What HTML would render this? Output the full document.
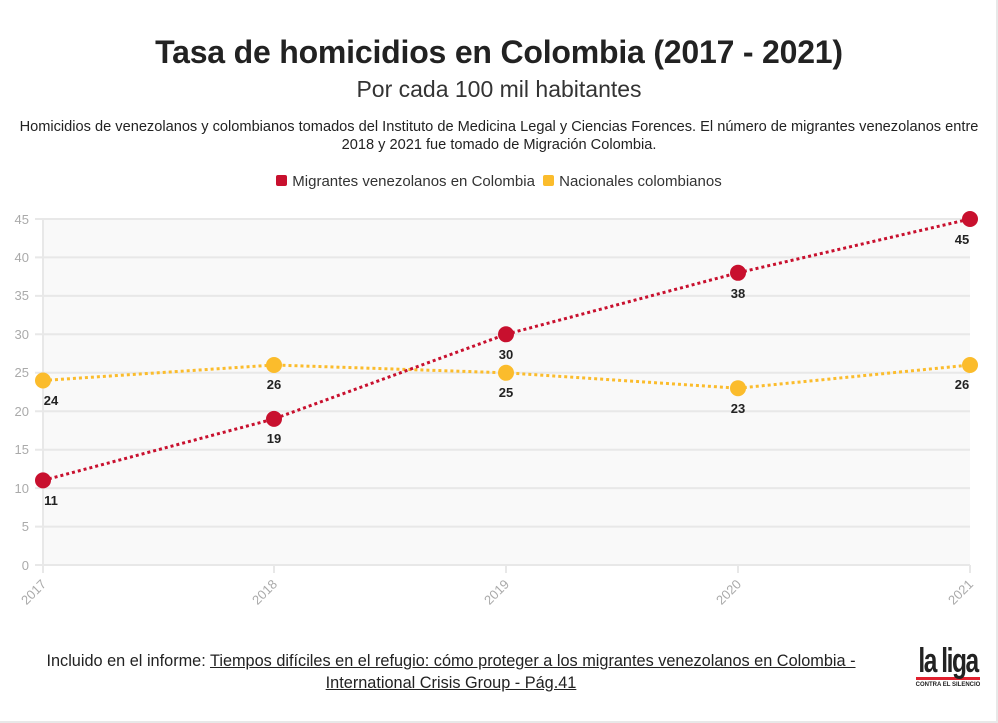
<!DOCTYPE html><html><head><meta charset="utf-8"><style>
body{margin:0;width:998px;height:723px;background:#fff;font-family:"Liberation Sans",sans-serif;overflow:hidden;position:relative}
.t{position:absolute;left:0;width:998px;text-align:center;color:#222}
</style></head><body>
<div style="position:absolute;right:0;top:0;width:2px;height:723px;background:#e8e8e8"></div>
<div style="position:absolute;left:0;bottom:0;width:998px;height:2px;background:#e8e8e8"></div>
<div class="t" style="top:34px;font-size:32px;font-weight:bold;letter-spacing:-0.2px">Tasa de homicidios en Colombia (2017 - 2021)</div>
<div class="t" style="top:76px;font-size:23px;color:#333">Por cada 100 mil habitantes</div>
<div class="t" style="top:118px;font-size:14.6px;line-height:18px;color:#222">Homicidios de venezolanos y colombianos tomados del Instituto de Medicina Legal y Ciencias Forences. El número de migrantes venezolanos entre<br>2018 y 2021 fue tomado de Migración Colombia.</div>
<div class="t" style="top:173px;font-size:15px;color:#333"><span style="display:inline-block;width:11px;height:11px;background:#c8102e;border-radius:2px;margin-right:5px"></span>Migrantes venezolanos en Colombia <span style="display:inline-block;width:11px;height:11px;background:#fbbc2c;border-radius:2px;margin:0 5px 0 4px"></span>Nacionales colombianos</div>
<svg width="998" height="723" style="position:absolute;left:0;top:0" font-family="Liberation Sans, sans-serif">
<rect x="43" y="219" width="927" height="346" fill="#f9f9f9"/>
<g stroke="#e8e8e8" stroke-width="2">
<line x1="35" x2="970" y1="565" y2="565"/><line x1="35" x2="970" y1="526.6" y2="526.6"/><line x1="35" x2="970" y1="488.1" y2="488.1"/><line x1="35" x2="970" y1="449.7" y2="449.7"/><line x1="35" x2="970" y1="411.2" y2="411.2"/><line x1="35" x2="970" y1="372.8" y2="372.8"/><line x1="35" x2="970" y1="334.3" y2="334.3"/><line x1="35" x2="970" y1="295.9" y2="295.9"/><line x1="35" x2="970" y1="257.4" y2="257.4"/><line x1="35" x2="970" y1="219" y2="219"/>
<line x1="43" x2="43" y1="219" y2="573"/><line x1="274" x2="274" y1="565" y2="573"/><line x1="506" x2="506" y1="565" y2="573"/><line x1="738" x2="738" y1="565" y2="573"/><line x1="970" x2="970" y1="565" y2="573"/>
</g>
<g fill="#aaa" font-size="13" text-anchor="end">
<text x="29" y="570">0</text><text x="29" y="531">5</text><text x="29" y="493">10</text><text x="29" y="454">15</text><text x="29" y="416">20</text><text x="29" y="377">25</text><text x="29" y="339">30</text><text x="29" y="300">35</text><text x="29" y="262">40</text><text x="29" y="224">45</text>
<text transform="translate(47,585) rotate(-45)">2017</text><text transform="translate(278,585) rotate(-45)">2018</text><text transform="translate(510,585) rotate(-45)">2019</text><text transform="translate(742,585) rotate(-45)">2020</text><text transform="translate(974,585) rotate(-45)">2021</text>
</g>
<polyline points="43,380.5 274,365 506,372.8 738,388.2 970,365" fill="none" stroke="#fbbc2c" stroke-width="3" stroke-dasharray="3,3"/>
<polyline points="43,480.4 274,418.9 506,334.3 738,272.8 970,219" fill="none" stroke="#c8102e" stroke-width="3" stroke-dasharray="3,3"/>
<g fill="#fbbc2c"><circle cx="43" cy="380.5" r="8"/><circle cx="274" cy="365" r="8"/><circle cx="506" cy="372.8" r="8"/><circle cx="738" cy="388.2" r="8"/><circle cx="970" cy="365" r="8"/></g>
<g fill="#c8102e"><circle cx="43" cy="480.4" r="8"/><circle cx="274" cy="418.9" r="8"/><circle cx="506" cy="334.3" r="8"/><circle cx="738" cy="272.8" r="8"/><circle cx="970" cy="219" r="8"/></g>
<g fill="#222" font-size="13" font-weight="bold" text-anchor="middle">
<text x="51" y="505">11</text><text x="274" y="443">19</text><text x="506" y="359">30</text><text x="738" y="298">38</text><text x="962" y="244">45</text>
<text x="51" y="405">24</text><text x="274" y="389">26</text><text x="506" y="397">25</text><text x="738" y="413">23</text><text x="962" y="389">26</text>
</g>
</svg>
<div style="position:absolute;left:0;width:902px;top:650px;text-align:center;font-size:16.3px;line-height:22px;color:#222">Incluido en el informe: <u>Tiempos difíciles en el refugio: cómo proteger a los migrantes venezolanos en Colombia -</u><br><u>International Crisis Group - Pág.41</u></div>
<div style="position:absolute;left:914px;top:646px;width:68px;text-align:center;white-space:nowrap">
<div style="font-size:34px;font-weight:bold;letter-spacing:-2px;color:#222;line-height:30px;transform:scaleX(0.72);margin:0 -30px">la liga</div>
<div style="height:3px;background:#e0202e;margin:1px 2px 2px"></div>
<div style="font-size:6px;font-weight:bold;color:#222">CONTRA EL SILENCIO</div>
</div>
</body></html>
